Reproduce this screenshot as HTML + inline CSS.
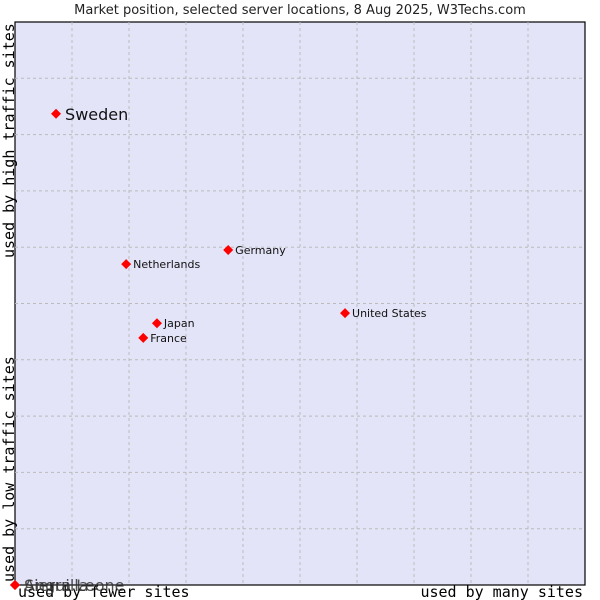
<!DOCTYPE html>
<html><head><meta charset="utf-8"><style>
body{margin:0;background:#fff;width:600px;height:600px;overflow:hidden}
svg{display:block}
</style></head><body>
<svg width="600" height="600">
<text x="300" y="14" text-anchor="middle" font-family="DejaVu Sans, sans-serif" font-size="13" fill="#222">Market position, selected server locations, 8 Aug 2025, W3Techs.com</text>
<rect x="15" y="22" width="570" height="563" fill="#e3e4f8" stroke="#000" stroke-width="1.2"/>
<g id="grid"></g>
<text transform="translate(14,258) rotate(-90)" font-family="DejaVu Sans Mono, monospace" font-size="15" fill="#000">used by high traffic sites</text>
<text transform="translate(14,582) rotate(-90)" font-family="DejaVu Sans Mono, monospace" font-size="15" fill="#000">used by low traffic sites</text>
<text x="18" y="597" font-family="DejaVu Sans Mono, monospace" font-size="15" fill="#000">used by fewer sites</text>
<text x="583" y="597" text-anchor="end" font-family="DejaVu Sans Mono, monospace" font-size="15" fill="#000">used by many sites</text>
<g id="points"></g>
</svg>
<script>
const names=["Sweden","Germany","Netherlands","Japan","France","United States","Sierra Leone","Anguilla"];
const xVals=[7.2,37.4,19.5,24.9,22.5,57.9,0,0];
const yVals=[83.7,59.5,57.0,46.5,43.9,48.3,0,0];
const big=[true,false,false,false,false,false,true,true];
const NS="http://www.w3.org/2000/svg";
const X0=15,W=570,Y0=585,H=563;
function sx(v){return X0+v/100*W}
function sy(v){return Y0-v/100*H}
const grid=document.getElementById('grid');
for(let i=1;i<10;i++){
  const v=document.createElementNS(NS,'line');
  v.setAttribute('x1',sx(i*10));v.setAttribute('x2',sx(i*10));v.setAttribute('y1',22);v.setAttribute('y2',585);
  v.setAttribute('stroke','#bbb');v.setAttribute('stroke-dasharray','3,3');
  
  
  grid.appendChild(v);
  const h=document.createElementNS(NS,'line');
  h.setAttribute('y1',sy(i*10));h.setAttribute('y2',sy(i*10));h.setAttribute('x1',15);h.setAttribute('x2',585);
  h.setAttribute('stroke','#bbb');h.setAttribute('stroke-dasharray','3,3');
  
  
  grid.appendChild(h);
}
const g=document.getElementById('points');
names.forEach((n,i)=>{
  const x=sx(xVals[i]),y=sy(yVals[i]);
  const d=document.createElementNS(NS,'polygon');
  d.setAttribute('points',`${x},${y-5} ${x+5},${y} ${x},${y+5} ${x-5},${y}`);
  d.setAttribute('fill','#f00');
  
  
  g.appendChild(d);
  const t=document.createElementNS(NS,'text');
  t.setAttribute('x',x+(big[i]?9:7));t.setAttribute('y',y+(big[i]?6:4));
  t.setAttribute('font-family','DejaVu Sans, sans-serif');
  t.setAttribute('font-size',big[i]?16:11);
  t.setAttribute('fill',yVals[i]===0?'#333':'#111');
  if(yVals[i]===0)t.setAttribute('fill-opacity','0.85');
  t.textContent=n;
  
  
  g.appendChild(t);
});
</script>
</body></html>
